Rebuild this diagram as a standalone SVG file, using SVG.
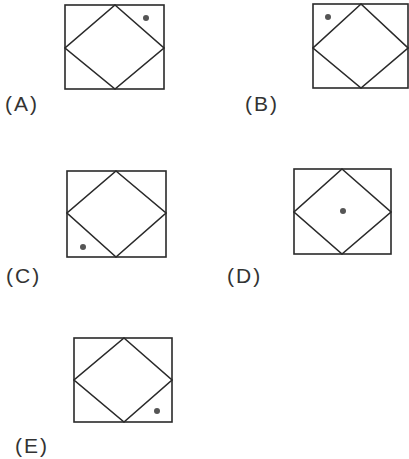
<svg xmlns="http://www.w3.org/2000/svg" width="409" height="459" viewBox="0 0 409 459">
<style>
.box{fill:none;stroke:#2a2a2a;stroke-width:1.6}
.dot{fill:#555}
.lbl{font-family:"Liberation Sans",Arial,sans-serif;font-size:21px;fill:#333;letter-spacing:2px}
</style>
<rect width="409" height="459" fill="#fff"/>
<g id="A">
<rect class="box" x="65" y="5" width="99" height="84"/>
<polygon class="box" points="115,5 164,48 115,89 65,48"/>
<circle class="dot" cx="146" cy="18" r="3"/>
<text class="lbl" x="5" y="111">(A)</text>
</g>
<g id="B">
<rect class="box" x="313" y="4" width="95" height="84"/>
<polygon class="box" points="361,4 408,48 361,88 313,48"/>
<circle class="dot" cx="328" cy="17" r="3"/>
<text class="lbl" x="245" y="111">(B)</text>
</g>
<g id="C">
<rect class="box" x="67" y="171" width="99" height="86"/>
<polygon class="box" points="116,171 166,213 116,257 67,213"/>
<circle class="dot" cx="83" cy="247" r="3"/>
<text class="lbl" x="6" y="283">(C)</text>
</g>
<g id="D">
<rect class="box" x="294" y="169" width="97" height="85"/>
<polygon class="box" points="342,169 391,212 342,254 294,212"/>
<circle class="dot" cx="343" cy="211" r="3"/>
<text class="lbl" x="227" y="283">(D)</text>
</g>
<g id="E">
<rect class="box" x="74" y="338" width="98" height="84"/>
<polygon class="box" points="124,338 172,380 124,422 74,380"/>
<circle class="dot" cx="157" cy="411" r="3"/>
<text class="lbl" x="15" y="453">(E)</text>
</g>
<g id="connectors"/>
</svg>
